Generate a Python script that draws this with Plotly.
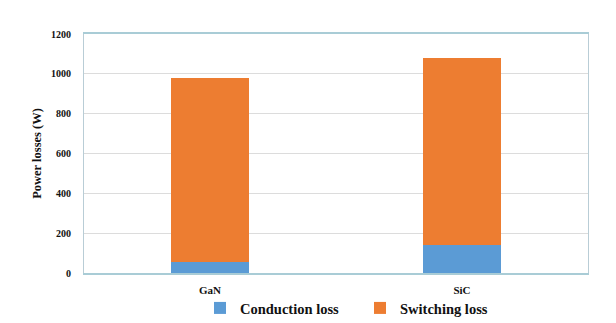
import plotly.graph_objects as go

categories = ["GaN", "SiC"]
conduction = [55, 140]
switching = [926, 940]
y_ticks = [0, 200, 400, 600, 800, 1000, 1200]

fig = go.Figure()
fig.add_trace(go.Bar(x=categories, y=conduction, name="Conduction loss",
                     marker=dict(color="#5B9BD5", line=dict(width=0))))
fig.add_trace(go.Bar(x=categories, y=switching, name="Switching loss",
                     marker=dict(color="#ED7D31", line=dict(width=0))))

font_family = "Liberation Serif"
fig.update_layout(
    barmode="stack",
    bargap=0.687,
    width=616, height=323,
    margin=dict(l=84, r=28, t=34, b=50, autoexpand=False),
    paper_bgcolor="white", plot_bgcolor="white",
    font=dict(family=font_family, color="#222222"),
    legend=dict(orientation="h", x=200 / 616, xanchor="left", xref="container",
                y=15 / 323, yanchor="middle", yref="container",
                bgcolor="rgba(0,0,0,0)",
                font=dict(size=14.5, family=font_family, color="#111111", weight="bold"),
                entrywidth=115, entrywidthmode="pixels", traceorder="normal",
                itemwidth=30),
    showlegend=True,
)
fig.update_xaxes(
    showline=True, linecolor="#A9CCD6", linewidth=1.5, mirror=True,
    tickfont=dict(size=11, family=font_family, weight="bold", color="#111111"),
    ticks="", ticklabelstandoff=6,
)
fig.update_yaxes(
    range=[0, 1200], tickvals=y_ticks,
    showline=True, linecolor="#B9CDD6", linewidth=1, mirror=True,
    gridcolor="#DCDCDC", gridwidth=1, zeroline=False,
    tickfont=dict(size=10, family=font_family, weight="bold", color="#111111"),
    ticks="", ticklabelstandoff=10,
    title=dict(text="Power losses (W)", font=dict(size=12.5, family=font_family, weight="bold", color="#111111"), standoff=6),
)
fig.write_html("out.html")
